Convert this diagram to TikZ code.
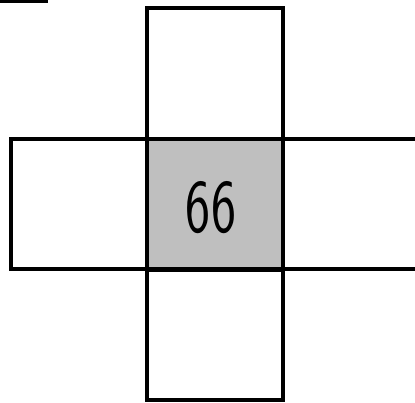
\documentclass[tikz,border=0pt]{standalone}
\begin{document}
\begin{tikzpicture}[x=1pt,y=1pt,
  cell/.style={draw, line width=4pt, minimum width=136pt, minimum height=130.5pt, inner sep=0pt, outer sep=0pt},
  numlabel/.style={font=\sffamily\fontsize{76}{76}\selectfont, xscale=0.7, inner sep=0pt}]
\useasboundingbox (0,0) rectangle (415,403);
\node[cell] (top) at (214.5,329.25) {};
\node[cell] (bottom) at (214.5,68) {};
\node[cell] (left) at (78.5,198.75) {};
\node[cell] (right) at (350.5,198.75) {};
\node[cell, fill=black!25] (mid) at (214.5,198.75) {};
\node[numlabel] (val) at (211,195) {66};
\coordinate (a) at (-5,402);
\coordinate (b) at (48,402);
\draw[line width=4pt] (a) -- (b);
\end{tikzpicture}
\end{document}
